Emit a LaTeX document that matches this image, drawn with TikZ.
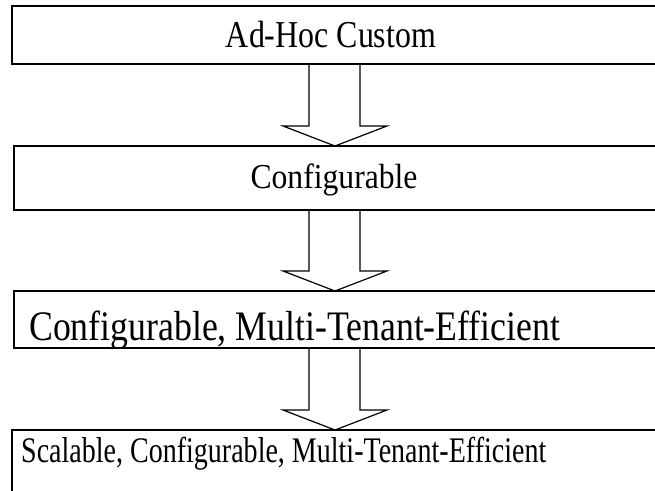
\documentclass[tikz,border=0pt]{standalone}
\usepackage{fontspec}
\setmainfont{Liberation Serif}
\usetikzlibrary{calc}
\tikzset{
  boxst/.style={draw, line width=1.8pt, rectangle, inner sep=0pt, outer sep=0pt, anchor=north west},
  lbl/.style={inner sep=0pt},
  barrow/.style={draw, line width=1.2pt, line join=miter},
}
\newcommand\lbltext[3]{{\fontsize{#1}{#1}\selectfont\resizebox{#2}{\height}{#3}}}
\newcommand\blkarrow[2]{%
  \draw[barrow] ($(ax |- #1.south)+(-26,0)$) -- ($(ax |- #2.north)+(-26,20)$)
    -- ($(ax |- #2.north)+(-52,20)$) -- (ax |- #2.north)
    -- ($(ax |- #2.north)+(52,20)$) -- ($(ax |- #2.north)+(25,20)$)
    -- ($(ax |- #1.south)+(25,0)$);}
\begin{document}
\begin{tikzpicture}[x=1pt,y=1pt]
  \useasboundingbox (0,0) rectangle (655,-490);
  \clip (0,0) rectangle (655,-490);
  \coordinate (ax) at (335,0);
  \node[boxst, minimum width=700pt, minimum height=58pt] (b1) at (12,-6) {};
  \node[boxst, minimum width=700pt, minimum height=64pt] (b2) at (14,-146) {};
  \node[boxst, minimum width=700pt, minimum height=57pt] (b3) at (14,-291) {};
  \node[boxst, minimum width=700pt, minimum height=100pt] (b4) at (12,-430) {};
  \node[lbl, anchor=base] (t1) at (331,-47) {\lbltext{38pt}{210pt}{Ad-Hoc Custom}};
  \node[lbl, anchor=base] (t2) at (334,-188) {\lbltext{35pt}{167pt}{Configurable}};
  \node[lbl, anchor=base west] (t3) at (29,-340) {\lbltext{42pt}{531pt}{Configurable, Multi-Tenant-Efficient}};
  \node[lbl, anchor=base west] (t4) at (21,-462) {\lbltext{36pt}{525pt}{Scalable, Configurable, Multi-Tenant-Efficient}};
  \blkarrow{b1}{b2}
  \blkarrow{b2}{b3}
  \blkarrow{b3}{b4}
\end{tikzpicture}
\end{document}
